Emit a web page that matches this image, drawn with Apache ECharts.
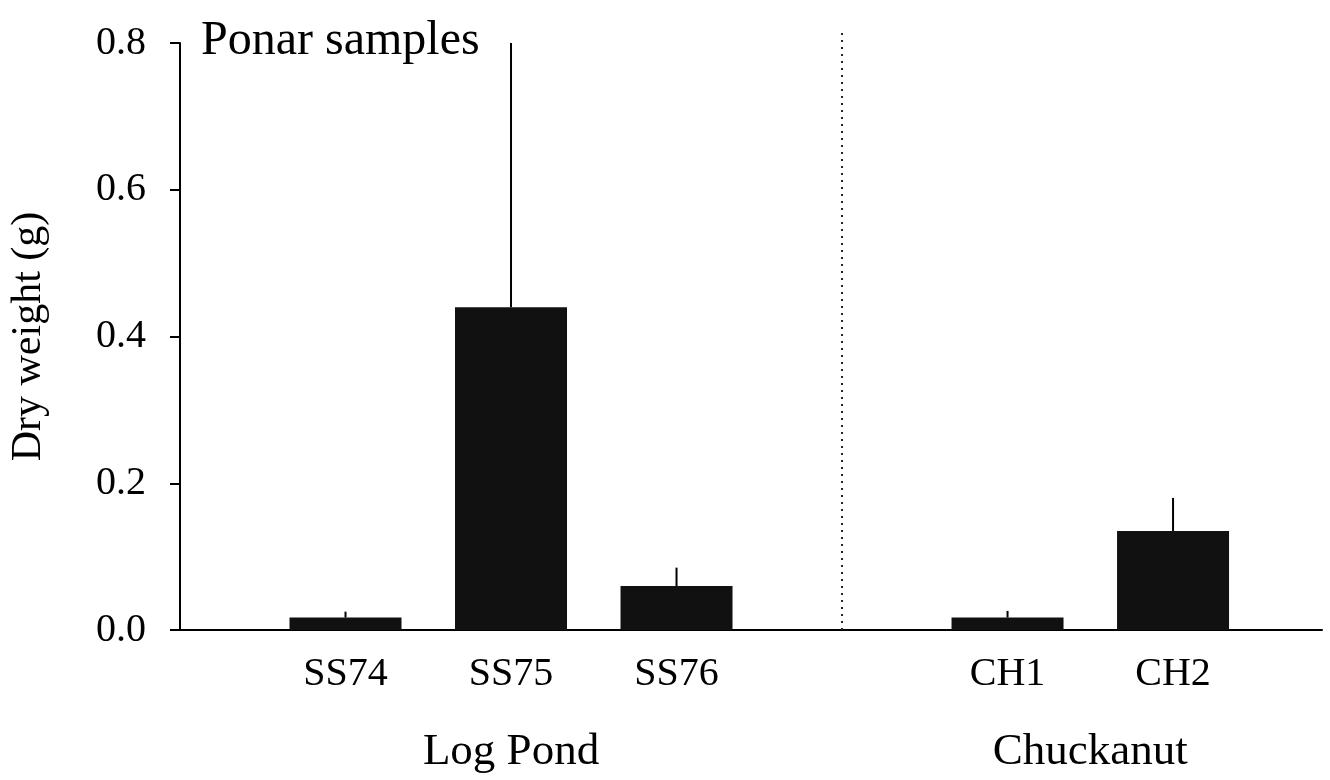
<!DOCTYPE html>
<html>
<head>
<meta charset="utf-8">
<script src="https://cdn.jsdelivr.net/npm/echarts@6/dist/echarts.min.js"></script>
<style>
  html, body { margin: 0; padding: 0; background: #fff; }
  #chart { width: 1330px; height: 780px; }
</style>
</head>
<body>
<div id="chart"></div>
<script>
// Sample sites and their x positions (gap at 4 separates the two locations)
const sites = ['SS74', 'SS75', 'SS76', 'CH1', 'CH2'];
const sitePos = [1, 2, 3, 5, 6];
// Mean dry weight (g) and upper error (g)
const dryWeight = [0.017, 0.44, 0.060, 0.017, 0.135];
const upperErr = [0.008, 0.36, 0.025, 0.009, 0.045];
// Location group labels and their centres
const groups = ['Log Pond', 'Chuckanut'];
const groupPos = [2, 5.5];
// Divider between locations: x position and vertical extent
const dividerPos = 4;
const dividerSpan = [0, 0.815];
// y-axis ticks
const yMin = 0, yMax = 0.8, yStep = 0.2;

const FONT = '"Liberation Serif", "DejaVu Serif", serif';

const barData = sitePos.map((x, i) => [x, dryWeight[i]]);
const errData = sitePos.map((x, i) => [x, dryWeight[i], dryWeight[i] + upperErr[i]]);
const dividerData = dividerSpan.map(y => [dividerPos, y]);

const chart = echarts.init(document.getElementById('chart'));
chart.setOption({
  animation: false,
  backgroundColor: '#fff',
  title: {
    text: 'Ponar samples',
    left: 196,
    top: 12,
    textStyle: { fontFamily: FONT, fontSize: 48, fontWeight: 'normal', color: '#000' }
  },
  grid: { left: 178, right: 8, top: 43, bottom: 150, containLabel: false },
  xAxis: [
    {
      type: 'value', min: 0, max: 6.9,
      axisLine: { show: true, onZero: false, lineStyle: { color: '#000', width: 2 } },
      axisTick: { show: false },
      splitLine: { show: false },
      axisLabel: {
        customValues: sitePos,
        formatter: v => sites[sitePos.indexOf(v)] || '',
        margin: 24,
        fontFamily: FONT, fontSize: 40, color: '#000'
      }
    },
    {
      type: 'value', min: 0, max: 6.9, position: 'bottom',
      axisLine: { show: false },
      axisTick: { show: false },
      splitLine: { show: false },
      axisLabel: {
        customValues: groupPos,
        formatter: v => groups[groupPos.indexOf(v)] || '',
        margin: 100,
        fontFamily: FONT, fontSize: 45, color: '#000'
      }
    }
  ],
  yAxis: {
    type: 'value', min: yMin, max: yMax, interval: yStep,
    name: 'Dry weight (g)',
    nameLocation: 'middle',
    nameGap: 130,
    nameTextStyle: { fontFamily: FONT, fontSize: 42, color: '#000' },
    axisLine: { show: true, lineStyle: { color: '#000', width: 2 } },
    axisTick: { show: true, inside: false, length: 10, lineStyle: { color: '#000', width: 2 } },
    splitLine: { show: false },
    axisLabel: {
      formatter: v => v.toFixed(1),
      margin: 34,
      fontFamily: FONT, fontSize: 40, color: '#000'
    }
  },
  series: [
    {
      type: 'bar',
      data: barData,
      barWidth: 112,
      itemStyle: { color: '#111' }
    },
    {
      type: 'custom',
      data: errData,
      renderItem: (params, api) => {
        const p0 = api.coord([api.value(0), api.value(1)]);
        const p1 = api.coord([api.value(0), api.value(2)]);
        return {
          type: 'line',
          shape: { x1: p0[0], y1: p0[1], x2: p1[0], y2: p1[1] },
          style: { stroke: '#000', lineWidth: 2 }
        };
      },
      encode: { x: 0, y: [1, 2] },
      z: 3
    },
    {
      type: 'line',
      data: dividerData,
      clip: false,
      symbol: 'none',
      silent: true,
      lineStyle: { color: '#222', type: [2, 5], width: 2 }
    }
  ]
});
</script>
</body>
</html>
